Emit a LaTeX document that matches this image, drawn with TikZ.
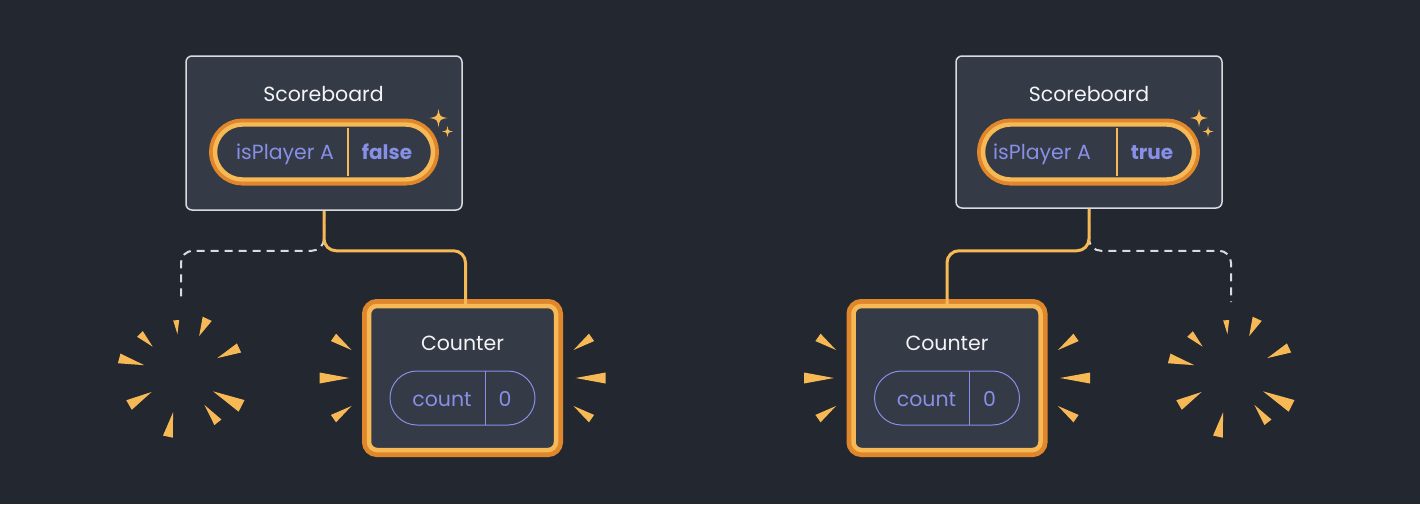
\documentclass[tikz,border=0pt]{standalone}
\usepackage{fontspec}
\setmainfont{Poppins}
\usetikzlibrary{shapes.misc,calc}

\definecolor{bg}{HTML}{23272F}
\definecolor{card}{HTML}{343A46}
\definecolor{edge}{HTML}{D9DBE0}
\definecolor{gold}{HTML}{F7B955}
\definecolor{rust}{HTML}{E0872C}
\definecolor{lilac}{HTML}{878FE6}
\definecolor{ink}{HTML}{F4F4F6}

\tikzset{
  board/.style={rectangle, rounded corners=6, draw=edge, line width=1.5, fill=card},
  counter/.style={rectangle, rounded corners=8, fill=card, draw=gold, line width=4.5,
    preaction={draw=rust, line width=14}, minimum width=187, minimum height=144},
  flag/.style={rounded rectangle, fill=card, draw=gold, line width=4.4,
    preaction={draw=rust, line width=12}, minimum height=55, inner sep=0},
  slot/.style={rounded rectangle, draw=lilac, line width=1, minimum width=145,
    minimum height=54, inner sep=0},
  title/.style={anchor=base, inner sep=0, text=ink, font=\fontsize{20.5}{24}\selectfont},
  key/.style={anchor=base, inner sep=0, text=lilac, font=\fontsize{20.5}{24}\selectfont},
  val/.style={anchor=base, inner sep=0, text=lilac, font=\fontsize{20}{24}\selectfont\bfseries},
  wire/.style={draw=gold, line width=3, rounded corners=12},
  gone/.style={draw=edge, line width=2, dash pattern=on 8 off 6, rounded corners=12},
  ray/.style={fill=gold}
}

\begin{document}
\begin{tikzpicture}[x=1pt,y=-1pt]
\fill[bg] (0,0) rectangle (1420,504);

% left: isPlayerA false
\node[board, minimum width=276, minimum height=154] (scoreA) at (324,133) {};
\node[title] (scoreAname) at (323.5,101.5) {Scoreboard};
\node[flag, minimum width=218] (flagA) at (324,152) {};
\draw[gold, line width=1.5] (348,128) -- (348,176);
\node[key] (keyA) at (285,159.5) {isPlayer A};
\node[val] (valA) at (387,159.5) {false};

\node[counter] (counterA) at (462.5,378) {};
\node[title] (counterAname) at (462.5,350.5) {Counter};
\node[slot] (countA) at (462.5,398) {};
\draw[lilac, line width=1] (485,371) -- (485,425);
\node[key] (countAkey) at (442,406.5) {count};
\node[key] (countAval) at (505,406.5) {0};

\coordinate (burstA) at (181,375);
\coordinate (holeA) at (181,302);
\draw[gone] (scoreA.south) -- ($(scoreA.south)+(0,40)$) -| (holeA);
\draw[wire] (scoreA.south) -- ($(scoreA.south)+(0,40)$) -| ($(counterA.north)+(3,0)$);

% right: isPlayerA true
\node[board, minimum width=266, minimum height=152] (scoreB) at (1089,132) {};
\node[title] (scoreBname) at (1089,101.5) {Scoreboard};
\node[flag, minimum width=211] (flagB) at (1088.5,152) {};
\draw[gold, line width=1.5] (1117,128) -- (1117,176);
\node[key] (keyB) at (1042,159.5) {isPlayer A};
\node[val] (valB) at (1152,159.5) {true};

\node[counter] (counterB) at (947,378) {};
\node[title] (counterBname) at (947,350.5) {Counter};
\node[slot] (countB) at (947,398) {};
\draw[lilac, line width=1] (969.5,371) -- (969.5,425);
\node[key] (countBkey) at (926.5,406.5) {count};
\node[key] (countBval) at (989.5,406.5) {0};

\coordinate (burstB) at (1231,375);
\coordinate (holeB) at (1231,302);
\draw[gone] (scoreB.south) -- ($(scoreB.south)+(0,42)$) -| (holeB);
\draw[wire] (scoreB.south) -- ($(scoreB.south)+(0,42)$) -| (counterB.north);

% sparkles
\foreach \x/\y/\r in {438.5/118/9, 447.5/131.5/5.5, 1199/118/9, 1208/131.5/5.5}
  \fill[gold, shift={(\x,\y)}, scale=\r] (0,-1) .. controls (0.15,-0.15) .. (1,0)
    .. controls (0.15,0.15) .. (0,1) .. controls (-0.15,0.15) .. (-1,0)
    .. controls (-0.15,-0.15) .. cycle;

% rays round the counters
\foreach \c in {counterA, counterB}
  \foreach \dx/\dy/\a/\l/\w in {-111/-28/145/22/4.5, -113/0/180/30/5.5, -111/28/215/22/4.5,
                                111/-28/35/22/4.5, 113/0/0/30/5.5, 111/28/-35/22/4.5}
    \fill[ray, shift={(\c)}, shift={(\dx,\dy)}, rotate=\a] (0,0) -- (\l,\w) -- (\l,-\w) -- cycle;

% bursts where a counter used to be
\foreach \c in {burstA, burstB}
  \foreach \a/\ri/\ro/\w in {95/41/55/3, 65/43/62/5, 135/40/58/4, 25/40/64/5, 165/38/64/5,
                             -27/36/68/6.5, 210/34/60/5.5, -52/38/60/4.5, 258/38/63/5}
    \fill[ray, shift={(\c)}, rotate=\a] (\ri,0) -- (\ro,\w) -- (\ro,-\w) -- cycle;
\end{tikzpicture}
\end{document}
